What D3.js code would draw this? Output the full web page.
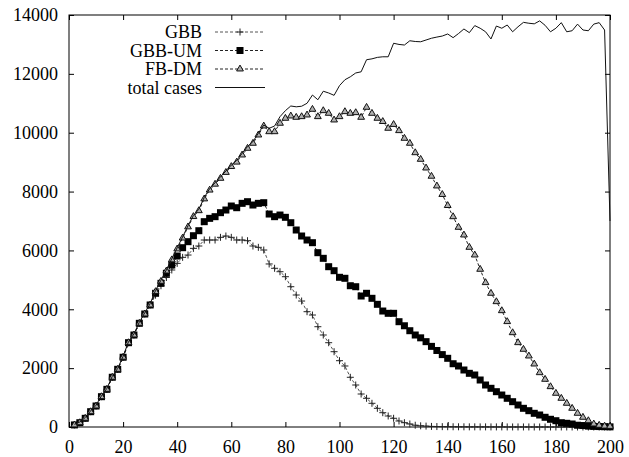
<!DOCTYPE html>
<html>
<head>
<meta charset="utf-8">
<script src="https://cdn.jsdelivr.net/npm/d3@7"></script>
<style>
  body { margin: 0; background: #fff; }
  svg text { font-family: "Liberation Serif", "Times New Roman", "DejaVu Serif", serif; }
</style>
</head>
<body>
<div id="wrapper"></div>
<script>
// x values: every 2 units, 2..200
const days = d3.range(2, 201, 2);

const gbb = [
  70,146,295,520,713,1030,1280,1690,1960,2370,2865,3126,3523,3840,4146,
  4480,4800,5080,5335,5560,5765,5844,6070,6150,6354,
  6354,6354,6445,6490,6445,6354,6354,6331,6150,6105,
  6014,5540,5393,5277,5107,4767,4485,4281,3918,3805,
  3408,3126,2864,2559,2253,2073,1689,1427,1121,975,
  805,635,486,374,296,204,146,102,60,40,
  30,20,15,12,10,
  8,7,6,5,5,4,4,3,3,3,2,2,2,2,2,1,1,1,1,1,1,1,1,0,0,0,0,0,0,0
];

const gbbUm = [
  70,146,295,520,713,1030,1280,1690,1960,2370,2865,3126,3523,3840,4146,
  4543,4882,5222,5505,5810,6093,6297,6500,6670,6977,
  7090,7147,7283,7373,7509,7452,7600,7656,7543,7600,
  7622,7237,7147,7203,7125,6942,6694,6490,6354,6263,
  5923,5732,5447,5311,5087,5053,4801,4767,4451,4543,
  4373,4169,3941,3863,3863,3578,3440,3272,3126,3030,
  2900,2740,2600,2460,2334,2150,2073,1937,1824,1767,
  1597,1427,1315,1200,1087,975,860,748,635,554,
  465,408,330,262,214,146,126,102,60,50,
  30,20,15,10,5
];

const fbDm = [
  70,146,295,520,713,1030,1280,1690,1960,2370,2865,3126,3523,3840,4146,
  4600,4950,5300,5680,6050,6420,6800,7150,7350,7750,
  8050,8250,8450,8650,8850,9000,9242,9470,9640,9922,
  10228,10034,10034,10320,10490,10568,10523,10545,10602,10795,
  10545,10749,10659,10432,10545,10715,10659,10681,10523,10863,
  10659,10490,10380,10150,10280,10070,9810,9640,9320,9095,
  8800,8520,8190,7900,7525,7145,6785,6524,6105,5844,
  5358,4905,4543,4258,3952,3580,3204,2865,2640,2412,
  2140,1845,1620,1370,1145,975,805,635,465,330,
  214,102,58,30,20
];

const totalCases = [
  90,170,320,550,740,1060,1310,1720,1990,2400,2900,3160,3560,3880,4190,
  4640,4990,5340,5720,6090,6460,6840,7190,7400,7800,
  8100,8300,8500,8700,8900,9060,9300,9530,9700,9980,
  10262,10150,10228,10545,10750,10908,10880,10900,11000,11280,
  11120,11410,11350,11270,11600,11800,11900,12030,12070,12480,
  12510,12560,12580,12580,13040,13000,12980,13125,13100,13090,
  13150,13210,13250,13285,13355,13230,13370,13525,13400,13640,
  13550,13430,13185,13625,13550,13660,13430,13600,13750,13720,
  13700,13800,13650,13430,13550,13740,13430,13465,13690,13490,
  13465,13690,13740,13490,7000
];

const seriesNames = ["GBB", "GBB-UM", "FB-DM", "total cases"];
const xTicks = d3.range(0, 201, 20);
const yTicks = d3.range(0, 14001, 2000);

const width = 629, height = 457;
const margin = {top: 15, right: 19, bottom: 30, left: 69};
const bw = width - margin.left - margin.right;
const bh = height - margin.top - margin.bottom;

const serif = "'Liberation Serif', 'Times New Roman', serif";

const svg = d3.select("#wrapper").append("svg")
  .attr("width", width).attr("height", height)
  .attr("font-family", serif);
const g = svg.append("g").attr("transform", `translate(${margin.left},${margin.top})`);

const x = d3.scaleLinear().domain([0, 200]).range([0, bw]);
const y = d3.scaleLinear().domain([0, 14000]).range([bh, 0]);

// axes, gnuplot style: ticks inside, mirrored
const fontSize = 18;
const fmt = d3.format("d");
const styleAxis = sel => {
  sel.attr("font-family", serif).attr("font-size", fontSize);
  sel.select(".domain").remove();
  sel.selectAll(".tick line").attr("stroke", "#000");
  sel.selectAll("text").attr("fill", "#000");
};
g.append("g").attr("transform", `translate(0,${bh})`)
  .call(d3.axisBottom(x).tickValues(xTicks).tickFormat(fmt).tickSizeInner(-5).tickSizeOuter(0).tickPadding(13))
  .call(styleAxis);
g.append("g")
  .call(d3.axisLeft(y).tickValues(yTicks).tickFormat(fmt).tickSizeInner(-5).tickSizeOuter(0).tickPadding(11))
  .call(styleAxis);
g.append("g")
  .call(d3.axisTop(x).tickValues(xTicks).tickSizeInner(-5).tickSizeOuter(0).tickFormat(""))
  .call(styleAxis);
g.append("g").attr("transform", `translate(${bw},0)`)
  .call(d3.axisRight(y).tickValues(yTicks).tickSizeInner(-5).tickSizeOuter(0).tickFormat(""))
  .call(styleAxis);

g.append("rect").attr("width", bw).attr("height", bh)
  .attr("fill", "none").attr("stroke", "#000").attr("stroke-width", 1);

// marker drawers
const plusPath = "M-3.5,0H3.5M0,-3.5V3.5";
const triPath = d3.symbol().type(d3.symbolTriangle).size(20)();

const drawMarker = (sel, kind) => {
  if (kind === "plus") {
    sel.append("path").attr("d", plusPath).attr("stroke", "#222").attr("stroke-width", 1).attr("fill", "none");
  } else if (kind === "square") {
    sel.append("rect").attr("x", -3.5).attr("y", -3.5).attr("width", 7).attr("height", 7).attr("fill", "#000");
  } else if (kind === "tri") {
    sel.append("path").attr("d", triPath).attr("fill", "#b0b0b0").attr("stroke", "#111").attr("stroke-width", 1);
  }
};

const series = [
  {name: seriesNames[0], values: gbb, marker: "plus", color: "#555", dash: "3,2"},
  {name: seriesNames[1], values: gbbUm, marker: "square", color: "#222", dash: "3,2"},
  {name: seriesNames[2], values: fbDm, marker: "tri", color: "#222", dash: "3,2"},
  {name: seriesNames[3], values: totalCases, marker: null, color: "#111", dash: null}
];

const line = d3.line().x(d => x(d[0])).y(d => y(d[1]));

series.forEach(s => {
  const pts = days.map((d, i) => [d, s.values[i]]);
  g.append("path").datum(pts)
    .attr("d", line)
    .attr("fill", "none")
    .attr("stroke", s.color)
    .attr("stroke-width", 1)
    .attr("stroke-dasharray", s.dash);
  if (s.marker) {
    g.append("g").selectAll("g").data(pts).join("g")
      .attr("transform", d => `translate(${x(d[0])},${y(d[1])})`)
      .each(function() { drawMarker(d3.select(this), s.marker); });
  }
});

// legend
const legend = svg.append("g").attr("font-family", serif);
const rowY = [32, 50.5, 69, 87.5];
series.forEach((s, i) => {
  const row = legend.append("g").attr("transform", `translate(0,${rowY[i]})`);
  row.append("text").attr("x", 202).attr("y", 0).attr("dy", "0.35em")
    .attr("text-anchor", "end").attr("font-size", fontSize).text(s.name);
  row.append("line").attr("x1", 215).attr("x2", 265)
    .attr("stroke", s.color).attr("stroke-width", 1).attr("stroke-dasharray", s.dash);
  if (s.marker) {
    const m = row.append("g").attr("transform", "translate(240,0)");
    drawMarker(m, s.marker);
  }
});
</script>
</body>
</html>
